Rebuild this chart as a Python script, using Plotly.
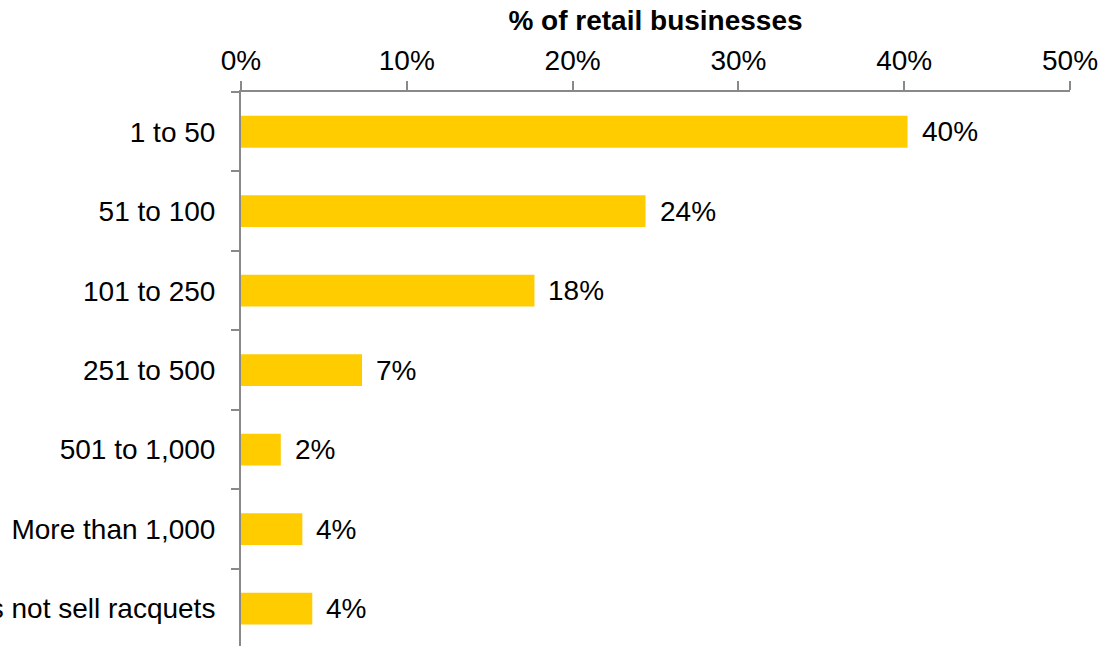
import plotly.graph_objects as go

# Number of racquets sold per year, share of retail businesses (%)
categories = ["1 to 50", "51 to 100", "101 to 250", "251 to 500",
              "501 to 1,000", "More than 1,000", "Does not sell racquets"]
shares = [40.2, 24.4, 17.7, 7.3, 2.4, 3.7, 4.3]
tick_values = [0, 10, 20, 30, 40, 50]
tick_labels = ["0%", "10%", "20%", "30%", "40%", "50%"]

FONT = "Liberation Sans, Arial, sans-serif"
SIZE = 28
AXIS_GREY = "#898989"
BAR_YELLOW = "#FFCC00"

fig = go.Figure(
    go.Bar(
        x=shares,
        y=categories,
        orientation="h",
        marker=dict(color=BAR_YELLOW, line=dict(width=0)),
        hoverinfo="skip",
    )
)

# value labels placed just to the right of each bar end
for cat, val in zip(categories, shares):
    fig.add_annotation(
        x=val, y=cat, text=f"{val:.0f}%",
        xanchor="left", yanchor="middle", xshift=12,
        showarrow=False, font=dict(family=FONT, size=SIZE, color="#000000"),
    )

fig.update_layout(
    width=1099, height=646,
    margin=dict(l=241, r=29, t=92, b=0, autoexpand=False),
    paper_bgcolor="white", plot_bgcolor="white",
    bargap=0.6, showlegend=False,
    font=dict(family=FONT, size=SIZE, color="#000000"),
    xaxis=dict(
        side="top", range=[0, 50], tickvals=tick_values, ticktext=tick_labels,
        showgrid=False, zeroline=False, showline=True,
        linecolor=AXIS_GREY, linewidth=2,
        ticks="outside", ticklen=9, tickwidth=2, tickcolor=AXIS_GREY,
        tickfont=dict(family=FONT, size=SIZE, color="#000000"),
        title=dict(text="<b>% of retail businesses</b>", standoff=6,
                   font=dict(family=FONT, size=SIZE, color="#000000")),
        automargin=False, fixedrange=True,
    ),
    yaxis=dict(
        type="category", categoryorder="array", categoryarray=categories,
        range=[6.47, -0.5],
        showgrid=False, zeroline=False, showline=True,
        linecolor=AXIS_GREY, linewidth=2,
        ticks="outside", tickson="boundaries", ticklen=8, tickwidth=2,
        tickcolor=AXIS_GREY, ticklabelstandoff=18,
        tickfont=dict(family=FONT, size=SIZE, color="#000000"),
        automargin=False, fixedrange=True,
    ),
)

fig.write_html("out.html")
